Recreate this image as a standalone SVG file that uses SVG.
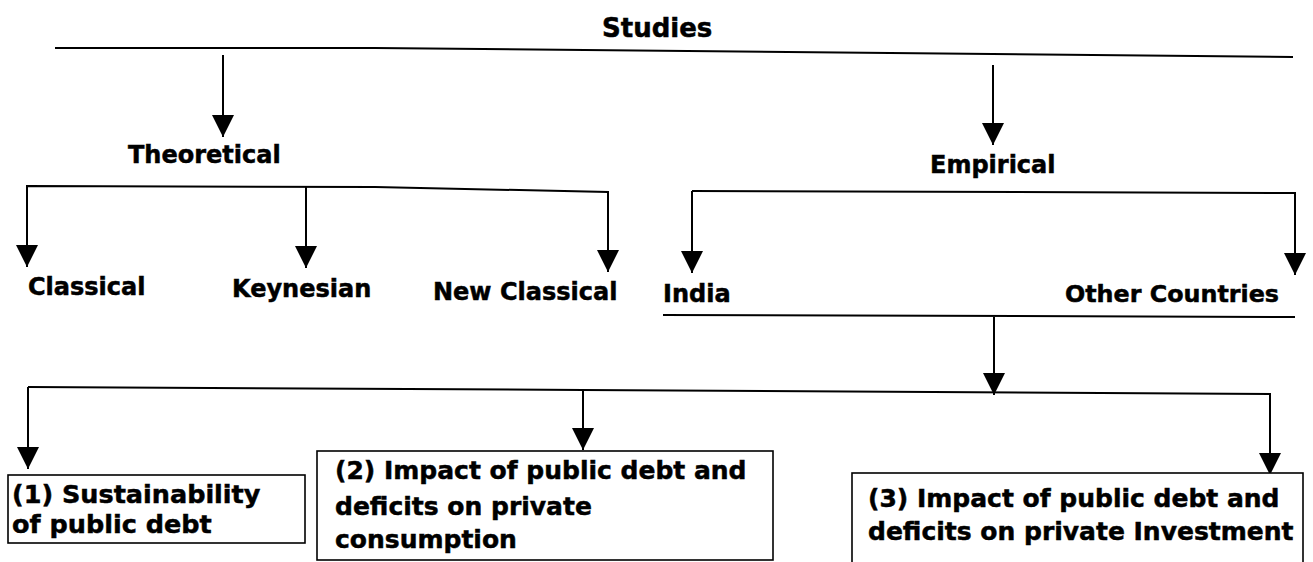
<svg xmlns="http://www.w3.org/2000/svg" width="1313" height="562" viewBox="0 0 1313 562">
<style>
text{font-family:"DejaVu Sans","Verdana",sans-serif;font-weight:bold;font-size:24px;fill:#000;stroke:#000;stroke-width:0.5}
.c{fill:none;stroke:#000;stroke-width:2}
.box{fill:#fff;stroke:#000;stroke-width:1.6}
.bt{font-size:25px}
</style>
<defs>
<marker id="ah" viewBox="0 0 22 22" refX="22" refY="11" markerWidth="22" markerHeight="22" markerUnits="userSpaceOnUse" orient="auto">
<path d="M0,0 L22,11 L0,22 z" fill="#000"/>
</marker>
</defs>
<rect width="1313" height="562" fill="#fff"/>
<g id="connectors">
<path class="c" d="M55,48 L375,48 L1293,57"/>
<path class="c" d="M223,55 L223,137" marker-end="url(#ah)"/>
<path class="c" d="M27,267 L27,186 L375,187 L608,192 L608,272" marker-end="url(#ah)"/>
<path class="c" d="M27,200 L27,267" marker-end="url(#ah)"/>
<path class="c" d="M306,187 L306,268" marker-end="url(#ah)"/>
<path class="c" d="M993,65 L993,145" marker-end="url(#ah)"/>
<path class="c" d="M692,191 L1295,193 L1295,275" marker-end="url(#ah)"/>
<path class="c" d="M692,191 L692,273" marker-end="url(#ah)"/>
<path class="c" d="M663,315 L1295,317"/>
<path class="c" d="M994,317 L994,395" marker-end="url(#ah)"/>
<path class="c" d="M28,387 L583,390 L1270,394 L1270,475" marker-end="url(#ah)"/>
<path class="c" d="M28,387 L28,469" marker-end="url(#ah)"/>
<path class="c" d="M583,390 L583,450" marker-end="url(#ah)"/>
</g>
<g id="studies"><text x="602" y="37" style="font-size:26px">Studies</text></g>
<g id="theoretical"><text x="128" y="163">Theoretical</text></g>
<g id="classical"><text x="28" y="295">Classical</text></g>
<g id="keynesian"><text x="232" y="297">Keynesian</text></g>
<g id="newclassical"><text x="433" y="300">New Classical</text></g>
<g id="empirical"><text x="930" y="173">Empirical</text></g>
<g id="india"><text x="663" y="302">India</text></g>
<g id="othercountries"><text x="1065" y="302" style="font-size:23.8px">Other Countries</text></g>
<g id="box1">
<rect class="box" x="8" y="475" width="297" height="68"/>
<text class="bt" x="12" y="503" style="font-size:25.5px">(1) Sustainability</text>
<text class="bt" x="12" y="533" style="font-size:25.5px">of public debt</text>
</g>
<g id="box2">
<rect class="box" x="317" y="451" width="456" height="109"/>
<text class="bt" x="335" y="479">(2) Impact of public debt and</text>
<text class="bt" x="335" y="515">deficits on private</text>
<text class="bt" x="335" y="548">consumption</text>
</g>
<g id="box3">
<rect class="box" x="852" y="473" width="451" height="100"/>
<text class="bt" x="868" y="507">(3) Impact of public debt and</text>
<text class="bt" x="868" y="540">deficits on private Investment</text>
</g>
</svg>
